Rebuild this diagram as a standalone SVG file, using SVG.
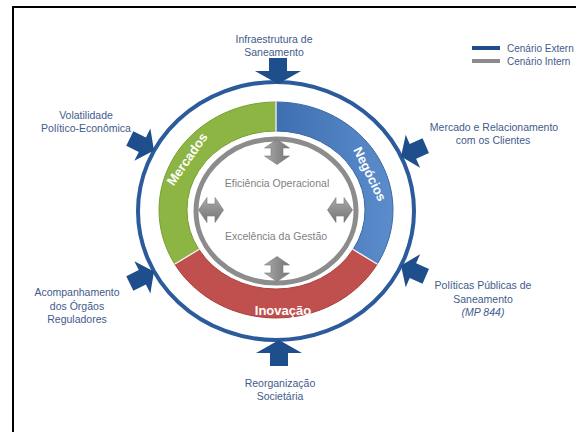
<svg xmlns="http://www.w3.org/2000/svg" width="576" height="432" viewBox="0 0 576 432">
  <defs>
    <style>
      .lbl { font-family: "Liberation Sans", Arial, sans-serif; font-size: 10.5px; fill: #3F5B8C; text-anchor: middle; }
      .leg { font-family: "Liberation Sans", Arial, sans-serif; font-size: 10px; fill: #3F5B8C; }
      .inner { font-family: "Liberation Sans", Arial, sans-serif; font-size: 10.5px; fill: #7F7F7F; text-anchor: middle; }
      .band { font-family: "Liberation Sans", Arial, sans-serif; font-size: 13px; font-weight: bold; fill: #FFFFFF; text-anchor: middle; }
      .barrow { fill: #1F4E8C; }
      .garrow { fill: url(#gg); stroke: #7A7A7A; stroke-width: 0.6; }
    </style>
    <linearGradient id="gg" x1="0" y1="0" x2="1" y2="0">
      <stop offset="0" stop-color="#ABABAB"/>
      <stop offset="0.5" stop-color="#8E8E8E"/>
      <stop offset="1" stop-color="#767676"/>
    </linearGradient>
    <linearGradient id="gb" x1="0" y1="0" x2="1" y2="0">
      <stop offset="0" stop-color="#3E6FB0"/>
      <stop offset="1" stop-color="#5B8CCB"/>
    </linearGradient>
    <path id="blk" d="M-9,-26 L9,-26 L9,-13 L23,-13 L0,0 L-23,-13 L-9,-13 Z"/>
    <path id="blkS" d="M-8,-27 L8,-27 L8,-13 L18,-13 L0,0 L-18,-13 L-8,-13 Z"/>
    <path id="dbl" d="M0,-12.5 L12.5,-4 L6,-4 L6,4 L12.5,4 L0,12.5 L-12.5,4 L-6,4 L-6,-4 L-12.5,-4 Z"/>
  </defs>

  <rect width="576" height="432" fill="#FFFFFF"/>
  <path d="M13,432 L13,7 L576,7" fill="none" stroke="#000000" stroke-width="2"/>

  <g id="legend">
    <rect x="472" y="46" width="28" height="4" fill="#1F4E8C"/>
    <text class="leg" x="507" y="51.5">Cenário Extern</text>
    <rect x="472" y="59" width="28" height="4" fill="#8C8C8C"/>
    <text class="leg" x="507" y="64.5">Cenário Intern</text>
  </g>

  <g id="outer-ring">
    <ellipse cx="276" cy="211" rx="138" ry="129" fill="none" stroke="#2B5B9A" stroke-width="4"/>
  </g>

  <g id="mercados">
    <path d="M174.7,264 A117,108 0 0 1 276,102 L276,131 A89,79 0 0 0 198.9,249.5 Z" fill="#8DB543" stroke="#76A032" stroke-width="1"/>
    <text class="band" font-size="13.5" transform="translate(187,159) rotate(-55)" y="4.7">Mercados</text>
  </g>
  <g id="negocios">
    <path d="M276,102 A117,108 0 0 1 377.3,264 L353.1,249.5 A89,79 0 0 0 276,131 Z" fill="url(#gb)" stroke="#3A68A6" stroke-width="1"/>
    <text class="band" transform="translate(370,174) rotate(64)" y="4.6">Negócios</text>
  </g>
  <g id="inovacao">
    <path d="M377.3,264 A117,108 0 0 1 174.7,264 L198.9,249.5 A89,79 0 0 0 353.1,249.5 Z" fill="#C0504D" stroke="#A63E3B" stroke-width="1"/>
    <text class="band" x="283" y="315">Inovação</text>
  </g>
  <g id="separators" stroke="#FFFFFF" stroke-width="1.3">
    <line x1="276" y1="101.5" x2="276" y2="131.5"/>
    <line x1="377.5" y1="264.2" x2="352.8" y2="249.3"/>
    <line x1="174.5" y1="264.2" x2="199.2" y2="249.3"/>
  </g>

  <g id="gray-ring">
    <ellipse cx="276" cy="211" rx="80" ry="72" fill="none" stroke="#8C8C8C" stroke-width="5"/>
    <text class="inner" x="277" y="187">Eficiência Operacional</text>
    <text class="inner" x="276" y="240">Excelência da Gestão</text>
  </g>

  <g id="label-infra"><text class="lbl" x="274" y="43">Infraestrutura de</text><text class="lbl" x="274" y="56">Saneamento</text></g>
  <g id="label-volatilidade"><text class="lbl" x="86" y="118.5">Volatilidade</text><text class="lbl" x="86" y="131.5">Político-Econômica</text></g>
  <g id="label-mercado"><text class="lbl" x="494" y="131">Mercado e Relacionamento</text><text class="lbl" x="493" y="144">com os Clientes</text></g>
  <g id="label-acompanhamento"><text class="lbl" x="77" y="296">Acompanhamento</text><text class="lbl" x="77" y="309.5">dos Órgãos</text><text class="lbl" x="77" y="323">Reguladores</text></g>
  <g id="label-politicas"><text class="lbl" x="483" y="289">Políticas Públicas de</text><text class="lbl" x="483" y="302.5">Saneamento</text><text class="lbl" x="483" y="316" font-style="italic">(MP 844)</text></g>
  <g id="label-reorganizacao"><text class="lbl" x="280" y="387">Reorganização</text><text class="lbl" x="280" y="400">Societária</text></g>

  <g id="connectors">
    <use href="#blk" class="barrow" transform="translate(278,84)"/>
    <use href="#blk" class="barrow" transform="translate(279,340) rotate(180)"/>
    <use href="#blkS" class="barrow" transform="translate(154,150.5) rotate(-63.6)"/>
    <use href="#blkS" class="barrow" transform="translate(154,271.5) rotate(-116.4)"/>
    <use href="#blkS" class="barrow" transform="translate(401,156.5) rotate(66.4)"/>
    <use href="#blkS" class="barrow" transform="translate(401,265.5) rotate(113.6)"/>
    <use href="#dbl" class="garrow" transform="translate(277,152)"/>
    <use href="#dbl" class="garrow" transform="translate(277,269)"/>
    <use href="#dbl" class="garrow" transform="translate(211,210) rotate(90)"/>
    <use href="#dbl" class="garrow" transform="translate(340,210) rotate(90)"/>
  </g>
</svg>
